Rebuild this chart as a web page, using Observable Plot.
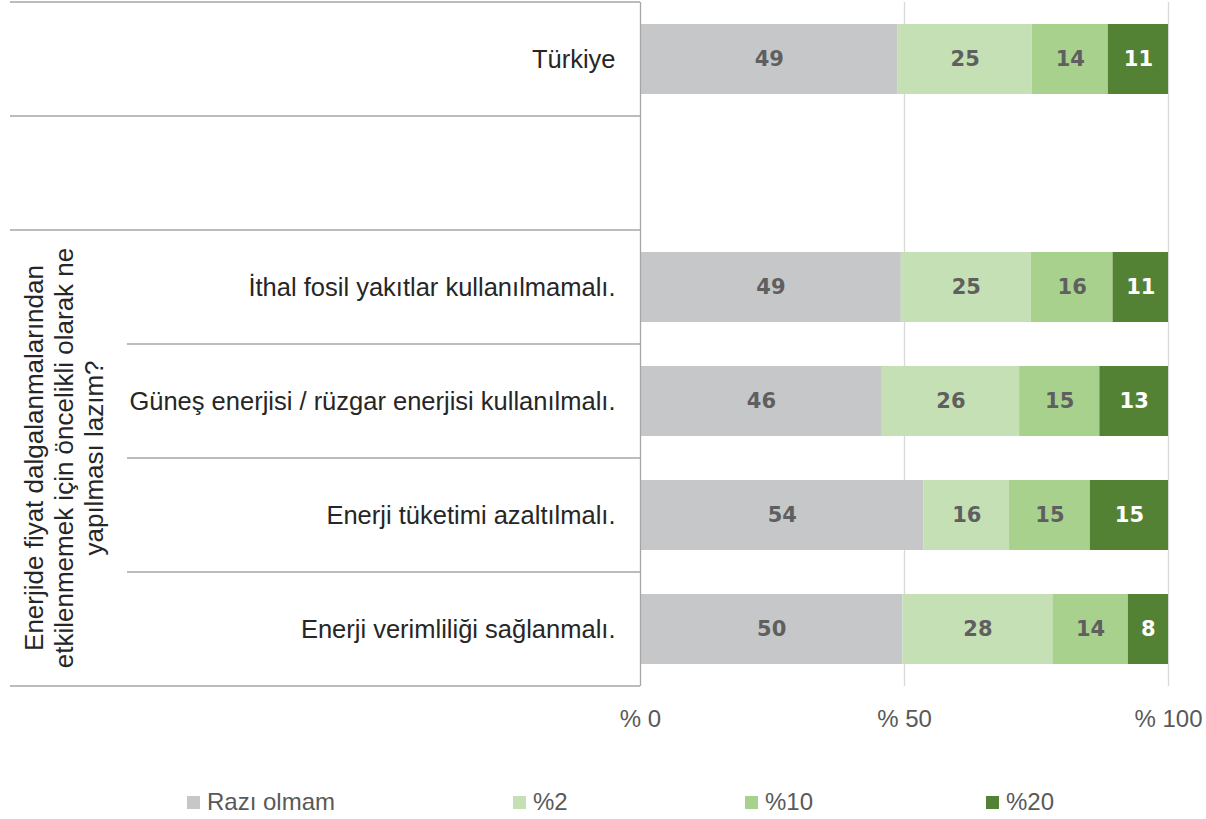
<!DOCTYPE html>
<html>
<head>
<meta charset="utf-8">
<script src="https://cdn.jsdelivr.net/npm/d3@7"></script>
<script src="https://cdn.jsdelivr.net/npm/@observablehq/plot@0.6"></script>
<style>
  html, body { margin: 0; padding: 0; background: #fff; }
  #chart { width: 1206px; }
  .legend { position: relative; width: 1206px; height: 49px; font-family: "Liberation Sans", Arial, sans-serif; font-size: 24px; color: #595959; }
  .legend .item { position: absolute; top: 19px; display: flex; align-items: center; line-height: 26px; }
  .legend .sw { width: 13px; height: 13px; margin-right: 7px; }
</style>
</head>
<body>
<div id="chart"></div>
<script>
const categories = [
  "Türkiye",
  " ",
  "İthal fosil yakıtlar kullanılmamalı.",
  "Güneş enerjisi / rüzgar enerjisi kullanılmalı.",
  "Enerji tüketimi azaltılmalı.",
  "Enerji verimliliği sağlanmalı."
];
const series = ["Razı olmam", "%2", "%10", "%20"];
const raziOlmam = [48.8, null, 49.4, 45.8, 53.7, 49.7];
const yuzde2    = [25.4, null, 24.6, 26.0, 16.2, 28.4];
const yuzde10   = [14.4, null, 15.5, 15.2, 15.3, 14.3];
const yuzde20   = [11.4, null, 10.5, 13.0, 14.8, 7.6];
const colors = ["#c6c7c9", "#c5e0b4", "#a9d18e", "#548235"];
const xTicks = [0, 50, 100];
const groupTitle = ["Enerjide fiyat dalgalanmalarından", "etkilenmemek için öncelikli olarak ne", "yapılması lazım?"];

const seriesValues = [raziOlmam, yuzde2, yuzde10, yuzde20];
const rows = [];
categories.forEach((c, i) => {
  series.forEach((s, j) => {
    const v = seriesValues[j][i];
    if (v != null) rows.push({cat: c, series: s, value: v});
  });
});

const W = 1206, H = 770;
const font = "'Liberation Sans', Arial, sans-serif";

const plot = Plot.plot({
  width: W,
  height: H,
  marginLeft: 640,
  marginRight: 38,
  marginTop: 2,
  marginBottom: 84,
  style: {fontFamily: font, fontSize: "24px", background: "white", overflow: "visible"},
  x: {domain: [0, 100], axis: null},
  y: {domain: categories, axis: null, paddingInner: 0.386, paddingOuter: 0.193},
  color: {domain: series, range: colors},
  marks: [
    Plot.ruleX([50, 100], {stroke: "#d9d9d9", strokeWidth: 1.3}),
    Plot.barX(rows, Plot.stackX({x: "value", y: "cat", fill: "series", order: series})),
    Plot.ruleX([0], {stroke: "#a6a6a6", strokeWidth: 1.3}),
    Plot.text(rows, Plot.stackX({
      filter: d => d.series !== "%20",
      x: "value", y: "cat", z: "series", order: series,
      text: d => String(Math.round(d.value)),
      fill: "#5f5f5f", fontSize: 21, fontWeight: "bold", fontFamily: "'DejaVu Sans', sans-serif"
    })),
    Plot.text(rows, Plot.stackX({
      x: "value", y: "cat", z: "series", order: series,
      text: d => d.series === "%20" ? String(Math.round(d.value)) : "",
      fill: "white", fontSize: 21, fontWeight: "bold", fontFamily: "'DejaVu Sans', sans-serif"
    })),
    Plot.text(categories, {
      y: d => d, text: d => d, frameAnchor: "left", textAnchor: "end", dx: -25,
      fill: "#262626", fontSize: 25.5
    }),
    Plot.axisX(xTicks, {
      tickSize: 0, tickPadding: 23, tickFormat: d => "% " + d,
      fontSize: 24, color: "#595959", label: null
    })
  ]
});

document.getElementById("chart").appendChild(plot);

// table grid lines in the left margin, from the y band scale
const ys = plot.scale("y");
const step = ys.step;
const gap = step - ys.bandwidth;
const tops = categories.map(c => ys.apply(c) - gap / 2);
const bounds = tops.concat([tops[tops.length - 1] + step]);
const svg = d3.select(plot);
const x0 = 640;
bounds.forEach((b, k) => {
  const inner = (k === 3 || k === 4 || k === 5);
  svg.append("line")
    .attr("x1", inner ? 127 : 10).attr("x2", x0)
    .attr("y1", b).attr("y2", b)
    .attr("stroke", "#a6a6a6").attr("stroke-width", 1.3);
});
// group title, rotated, centered over the four question rows
const cy = (bounds[2] + bounds[6]) / 2;
const t = svg.append("text")
  .attr("transform", `translate(64,${cy}) rotate(-90)`)
  .attr("text-anchor", "middle")
  .attr("fill", "#262626")
  .attr("font-family", font)
  .attr("font-size", 26);
groupTitle.forEach((line, i) => {
  t.append("tspan").attr("x", 0).attr("y", (i - 1) * 30).attr("dy", "0.35em").text(line);
});

// legend below the SVG
const legend = d3.select("body").append("div").attr("class", "legend");
const legendX = [187, 513, 745, 986];
series.forEach((s, i) => {
  const it = legend.append("div").attr("class", "item").style("left", legendX[i] + "px");
  it.append("div").attr("class", "sw").style("background", colors[i]);
  it.append("span").text(s);
});
</script>
</body>
</html>
